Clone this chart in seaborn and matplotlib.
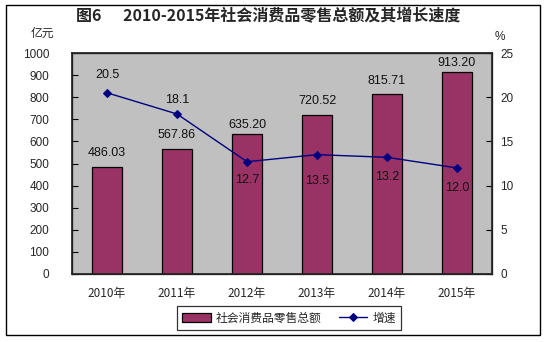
import matplotlib
matplotlib.use("Agg")
import matplotlib.pyplot as plt
import seaborn as sns
import numpy as np
import pandas as pd
from matplotlib.patches import Rectangle

years = ["2010年", "2011年", "2012年", "2013年", "2014年", "2015年"]
sales = [486.03, 567.86, 635.20, 720.52, 815.71, 913.20]
growth = [20.5, 18.1, 12.7, 13.5, 13.2, 12.0]
sales_labels = ["486.03", "567.86", "635.20", "720.52", "815.71", "913.20"]
growth_labels = ["20.5", "18.1", "12.7", "13.5", "13.2", "12.0"]
left_ticks = [0, 100, 200, 300, 400, 500, 600, 700, 800, 900, 1000]
right_ticks = [0, 5, 10, 15, 20, 25]

sns.set_theme(style="white")
plt.rcParams['font.family'] = ['Liberation Sans', 'Noto Sans CJK SC', 'DejaVu Sans']
CJK = ['Noto Sans CJK SC', 'DejaVu Sans']

W, H = 546, 342
fig = plt.figure(figsize=(W / 100, H / 100), dpi=100)
fig.patch.set_facecolor("white")

# outer frame
fig.add_artist(Rectangle((6 / W, 1 - 335 / H), 534 / W, 330 / H, transform=fig.transFigure,
                         fill=False, edgecolor="black", linewidth=1.0))

ax = fig.add_axes([72 / W, 1 - 274 / H, 420 / W, 221 / H])
ax.set_facecolor("#C0C0C0")

df = pd.DataFrame({"year": years, "sales": sales, "growth": growth})
sns.barplot(data=df, x="year", y="sales", ax=ax, color="#993366", width=0.42,
            edgecolor="black", linewidth=0.9, saturation=1, label="社会消费品零售总额")
ax.set_ylim(0, 1000)
ax.set_xlim(-0.5, 5.5)
ax.set_yticks(left_ticks)
ax.set_yticklabels([str(t) for t in left_ticks], fontsize=8.5)
ax.set_xlabel("")
ax.set_ylabel("")
ax.set_xticks(np.arange(-0.5, 6, 1))
ax.set_xticklabels([""] * 7)
ax.set_xticks(np.arange(6), minor=True)
ax.set_xticklabels(years, minor=True, fontsize=8.5, family=CJK)
ax.tick_params(axis="x", which="major", direction="in", length=4, width=0.8, color="black")
ax.tick_params(axis="x", which="minor", length=0, pad=9)
ax.tick_params(axis="y", direction="in", length=4, width=0.8, color="black", pad=16.5, left=True)
for s in ax.spines.values():
    s.set_color("black")
    s.set_linewidth(0.9)

bar_off = [14, 14, 9, 14, 13, 9.5]
for i, (v, lab) in enumerate(zip(sales, sales_labels)):
    ax.annotate(lab, (i, v), xytext=(0, bar_off[i] * 0.72), textcoords="offset points",
                ha="center", va="center", fontsize=9, color="#111111")

ax2 = ax.twinx()
sns.lineplot(x=np.arange(len(growth)), y=growth, ax=ax2, color="#000080", linewidth=1.0,
             marker="D", markersize=4, markeredgecolor="#000080", label="增速", legend=False)
ax2.set_ylim(0, 25)
ax2.set_yticks(right_ticks)
ax2.set_yticklabels([str(t) for t in right_ticks], fontsize=8.5)
ax2.tick_params(axis="y", direction="in", length=4, width=0.8, color="black", pad=6, right=True)
ax2.set_ylabel("")
ax2.grid(False)
ax.grid(False)

line_off = [18, 13.5, -18, -26, -20, -20]
for i, (v, lab) in enumerate(zip(growth, growth_labels)):
    ax2.annotate(lab, (i, v), xytext=(0, line_off[i] * 0.72), textcoords="offset points",
                 ha="center", va="center", fontsize=9, color="#111111")

fig.text(268 / W, 1 - 16 / H, "图6      2010-2015年社会消费品零售总额及其增长速度",
         ha="center", va="center", fontsize=11.5, fontweight="bold", family=CJK)
fig.text(42 / W, 1 - 33 / H, "亿元", ha="center", va="center", fontsize=8.5, family=CJK)
fig.text(500 / W, 1 - 37 / H, "%", ha="center", va="center", fontsize=8.5)

h1, l1 = ax.get_legend_handles_labels()
h2, l2 = ax2.get_legend_handles_labels()
leg = fig.legend(h1 + h2, l1 + l2, loc="center", bbox_to_anchor=(289 / W, 1 - 318 / H),
                 ncol=2, frameon=True, fancybox=False, prop={"family": CJK, "size": 8.5},
                 handlelength=2.4, handleheight=0.7, columnspacing=1.5, handletextpad=0.4,
                 borderpad=0.45)
leg.get_frame().set_edgecolor("black")
leg.get_frame().set_linewidth(0.9)
if ax.get_legend():
    ax.get_legend().remove()

fig.savefig("out.png", dpi=100)
